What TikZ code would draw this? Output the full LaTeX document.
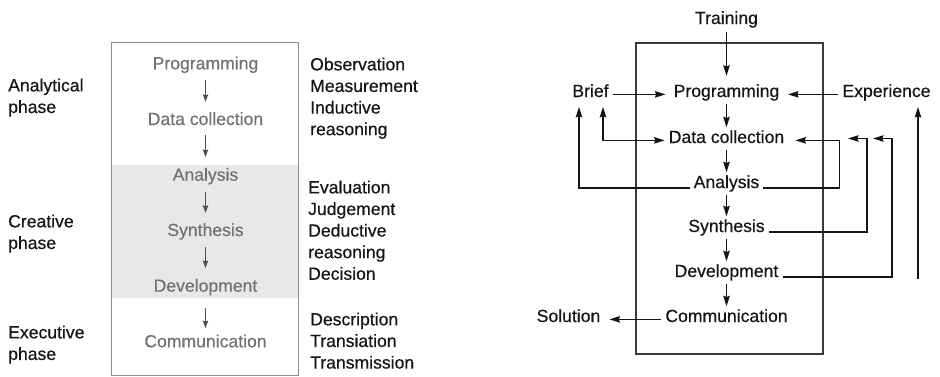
\documentclass[tikz,border=0pt]{standalone}
\usepackage{fontspec}
\setmainfont{Liberation Sans}[FakeBold=0.45]
\usetikzlibrary{arrows.meta}

\definecolor{ink}{HTML}{151515}
\definecolor{faint}{HTML}{727272}
\definecolor{paleband}{HTML}{E8E8E8}
\definecolor{frameL}{HTML}{8C8C8C}
\definecolor{frameR}{HTML}{3A3A3A}
\definecolor{tipL}{HTML}{505050}

\begin{document}
\begin{tikzpicture}[x=1pt,y=-1pt,
  every node/.style={font=\fontsize{17.6}{21.6}\selectfont, inner sep=0pt},
  phase/.style={anchor=north west, text=ink, align=left},
  stage/.style={anchor=base, text=faint, text height=12.5pt, text depth=3.7pt},
  item/.style={anchor=base, text=ink, text height=12.5pt, text depth=3.7pt, inner xsep=4pt},
  stepL/.style={draw=tipL, line width=0.9pt, -{Stealth[length=7.5pt,width=5.5pt,inset=1pt]}},
  flow/.style={draw=ink, line width=1.25pt, -{Stealth[length=10.5pt,width=6.5pt,inset=1.2pt]}},
  flowboth/.style={draw=ink, line width=1.25pt, {Stealth[length=10.5pt,width=6.5pt,inset=1.2pt]}-{Stealth[length=10.5pt,width=6.5pt,inset=1.2pt]}},
]
\useasboundingbox (0,0) rectangle (940,376);

% ---------- left panel: phases of the design process ----------
\fill[paleband] (111,165) rectangle (298,298);
\draw[frameL, line width=1pt] (111,42) rectangle (298,375.3);

\node[stage] (p1) at (205.5,69.3)  {Programming};
\node[stage] (p2) at (205.5,125)   {Data collection};
\node[stage] (p3) at (205.5,180.7) {Analysis};
\node[stage] (p4) at (205.5,236)   {Synthesis};
\node[stage] (p5) at (205.5,291.7) {Development};
\node[stage] (p6) at (205.5,347.3) {Communication};

\draw[stepL, shorten <=7pt,  shorten >=10.5pt] (p1.south) -- (p2.north);
\draw[stepL, shorten <=6.5pt,shorten >=11pt]   (p2.south) -- (p3.north);
\draw[stepL, shorten <=7.5pt,shorten >=10.5pt] (p3.south) -- (p4.north);
\draw[stepL, shorten <=7.5pt,shorten >=11pt]   (p4.south) -- (p5.north);
\draw[stepL, shorten <=12pt, shorten >=6.5pt]  (p5.south) -- (p6.north);

\node[phase] (analytical) at (8,78.4)  {Analytical\\phase};
\node[phase] (creative)   at (8,214.4) {Creative\\phase};
\node[phase] (executive)  at (8,325.4) {Executive\\phase};

\node[phase] (modesA) at (310,57.4)  {Observation\\Measurement\\Inductive\\reasoning};
\node[phase] (modesC) at (308,180.4) {Evaluation\\Judgement\\Deductive\\reasoning\\Decision};
\node[phase] (modesE) at (310,312.4) {Description\\Transiation\\Transmission};

% ---------- right panel: process with feedback loops ----------
\draw[frameR, line width=1.25pt] (636,43) rectangle (823,354);

\node[item] (train) at (726.5,24)  {Training};
\node[item] (prog)  at (726.5,97)  {Programming};
\node[item] (brief) at (590.5,97)  {Brief};
\node[item] (exp)   at (886.5,97)  {Experience};
\node[item] (dc)    at (726.5,143) {Data collection};
\node[item] (ana)   at (726.5,188) {Analysis};
\node[item] (syn)   at (726.5,232) {Synthesis};
\node[item] (dev)   at (726.5,277) {Development};
\node[item] (comm)  at (726.5,322) {Communication};
\node[item] (sol)   at (568.5,322) {Solution};

% main sequence
\draw[flow, shorten <=4pt, shorten >=8.5pt] (train.south) -- (prog.north);
\draw[flow, shorten <=3pt, shorten >=3pt] (prog.south) -- (dc.north);
\draw[flow, shorten <=3pt, shorten >=3pt] (dc.south)   -- (ana.north);
\draw[flow, shorten <=3pt, shorten >=3pt] (ana.south)  -- (syn.north);
\draw[flow, shorten <=3pt, shorten >=3pt] (syn.south)  -- (dev.north);
\draw[flow, shorten <=3pt, shorten >=3pt] (dev.south)  -- (comm.north);

% inputs and output
\draw[flow, shorten >=4pt] (brief.mid east) -- (prog.mid west);
\draw[flow, shorten >=4.5pt] (exp.mid west) -- (prog.mid east);
\draw[flow, shorten >=5pt] (comm.mid west) -- (sol.mid east);

% feedback loops
\draw[flowboth, shorten <=6pt] ([xshift=12.5pt]brief.south) |- (dc.mid west);
\draw[flow, shorten >=6pt] (ana.base west) -| ([xshift=-11.5pt]brief.south);
\draw[flow, shorten >=7pt] (ana.base east) -| ([xshift=51pt]dc.mid east) -- (dc.mid east);

\coordinate (synIn) at (848,138.5);
\coordinate (devIn) at (873,138.5);
\draw[flow] (syn.base east) -| (867,138.5) -- (synIn);
\draw[flow] (dev.base east) -| (892,138.5) -- (devIn);

\coordinate (expFoot) at (918,279);
\coordinate (expTip)  at (918,107);
\draw[flow] (expFoot) -- (expTip);
\end{tikzpicture}
\end{document}
